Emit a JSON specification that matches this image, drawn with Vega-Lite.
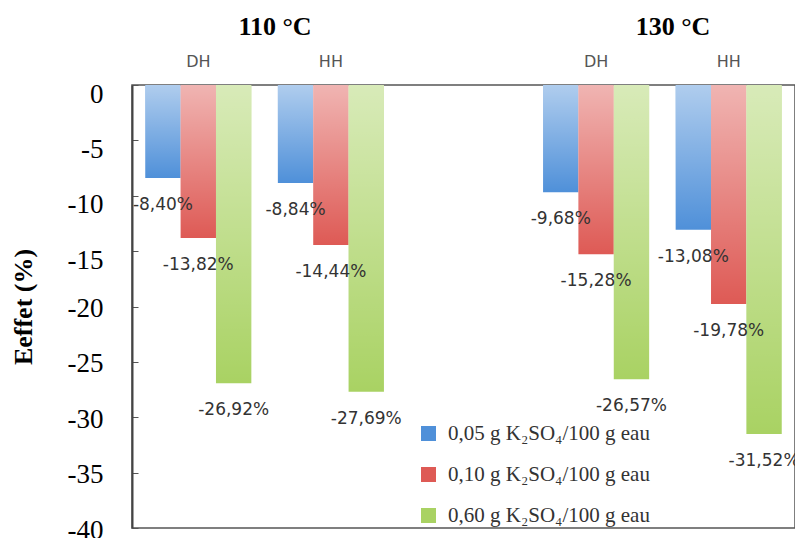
{
  "$schema": "https://vega.github.io/schema/vega-lite/v6.json",
  "width": 663,
  "height": 443,
  "padding": {"left": 10, "top": 13, "right": 0, "bottom": 0},
  "background": "white",
  "config": {
    "view": {"stroke": "#555", "strokeWidth": 1.5}
  },
  "datasets": {
    "bars": [
      {"group": "110 DH", "conc": "0,05 g K₂SO₄/100 g eau", "value": -8.40},
      {"group": "110 DH", "conc": "0,10 g K₂SO₄/100 g eau", "value": -13.82},
      {"group": "110 DH", "conc": "0,60 g K₂SO₄/100 g eau", "value": -26.92},
      {"group": "110 HH", "conc": "0,05 g K₂SO₄/100 g eau", "value": -8.84},
      {"group": "110 HH", "conc": "0,10 g K₂SO₄/100 g eau", "value": -14.44},
      {"group": "110 HH", "conc": "0,60 g K₂SO₄/100 g eau", "value": -27.69},
      {"group": "130 DH", "conc": "0,05 g K₂SO₄/100 g eau", "value": -9.68},
      {"group": "130 DH", "conc": "0,10 g K₂SO₄/100 g eau", "value": -15.28},
      {"group": "130 DH", "conc": "0,60 g K₂SO₄/100 g eau", "value": -26.57},
      {"group": "130 HH", "conc": "0,05 g K₂SO₄/100 g eau", "value": -13.08},
      {"group": "130 HH", "conc": "0,10 g K₂SO₄/100 g eau", "value": -19.78},
      {"group": "130 HH", "conc": "0,60 g K₂SO₄/100 g eau", "value": -31.52}
    ],
    "temps": [
      {"temp": "110 °C"},
      {"temp": "130 °C"}
    ]
  },
  "layer": [
    {
      "data": {"name": "bars"},
      "encoding": {
        "x": {
          "field": "group",
          "type": "nominal",
          "scale": {"domain": ["110 DH", "110 HH", "gap", "130 DH", "130 HH"], "paddingInner": 0.2, "paddingOuter": 0.1},
          "axis": {
            "orient": "top",
            "title": null,
            "domain": false,
            "ticks": false,
            "labelAngle": 0,
            "labelFont": "DejaVu Sans",
            "labelFontSize": 16,
            "labelColor": "#555",
            "labelPadding": 16,
            "labelExpr": "datum.label == 'gap' ? '' : substring(datum.label, 4)"
          }
        },
        "xOffset": {
          "field": "conc",
          "type": "nominal",
          "scale": {"domain": ["0,05 g K₂SO₄/100 g eau", "0,10 g K₂SO₄/100 g eau", "0,60 g K₂SO₄/100 g eau"], "paddingInner": 0, "paddingOuter": 0}
        },
        "y": {
          "field": "value",
          "type": "quantitative",
          "scale": {"domain": [-40, 0], "nice": false},
          "axis": {
            "values": [0, -5, -10, -15, -20, -25, -30, -35, -40],
            "labelExpr": "replace(datum.label, '−', '-')",
            "title": "Eeffet (%)",
            "titleFont": "Liberation Serif",
            "titleFontSize": 26,
            "titleFontWeight": "bold",
            "titleColor": "black",
            "titlePadding": 31,
            "labelFont": "Liberation Serif",
            "labelFontSize": 27,
            "labelColor": "black",
            "labelOffset": {"condition": {"test": "datum.value >= -15", "value": 9}, "value": 2},
            "labelPadding": 35,
            "tickSize": -6,
            "tickColor": "#555",
            "domainColor": "#444",
            "domainWidth": 2,
            "grid": false
          }
        }
      },
      "layer": [
        {
          "mark": {"type": "bar"},
          "encoding": {
            "color": {
              "field": "conc",
              "type": "nominal",
              "scale": {
                "domain": ["0,05 g K₂SO₄/100 g eau", "0,10 g K₂SO₄/100 g eau", "0,60 g K₂SO₄/100 g eau"],
                "range": ["#4f90d9", "#de5a55", "#a9d263"]
              },
              "legend": {
                "orient": "none",
                "legendX": 286,
                "legendY": 338,
                "title": null,
                "labelFont": "Liberation Serif",
                "labelFontSize": 21,
                "labelColor": "#333",
                "labelLimit": 400,
                "labelOffset": 9,
                "symbolType": "square",
                "symbolSize": 225,
                "symbolStrokeWidth": 0,
                "rowPadding": 19
              }
            }
          }
        },
        {
          "mark": {
            "type": "bar",
            "fill": {
              "gradient": "linear",
              "x1": 0, "y1": 0, "x2": 0, "y2": 1,
              "stops": [
                {"offset": 0, "color": "rgba(255,255,255,0.55)"},
                {"offset": 1, "color": "rgba(255,255,255,0)"}
              ]
            }
          },
          "encoding": {}
        },
        {
          "transform": [
            {"calculate": "replace(replace(format(datum.value, '.2f'), '.', ','), '−', '-') + '%'", "as": "label"}
          ],
          "mark": {"type": "text", "dy": 27, "baseline": "middle", "font": "DejaVu Sans", "fontSize": 17, "color": "#333"},
          "encoding": {
            "text": {"field": "label", "type": "nominal"}
          }
        }
      ]
    },
    {
      "data": {"name": "temps"},
      "mark": {"type": "point", "opacity": 0},
      "encoding": {
        "x": {
          "field": "temp",
          "type": "nominal",
          "scale": {"type": "point", "padding": 0.333},
          "axis": {
            "orient": "top",
            "title": null,
            "domain": false,
            "ticks": false,
            "labelAngle": 0,
            "labelFont": "Liberation Serif",
            "labelFontSize": 26,
            "labelFontWeight": "bold",
            "labelColor": "black",
            "labelPadding": 46,
            "labelOffset": 10
          }
        }
      }
    }
  ],
  "resolve": {"scale": {"x": "independent"}, "axis": {"x": "independent"}}
}
